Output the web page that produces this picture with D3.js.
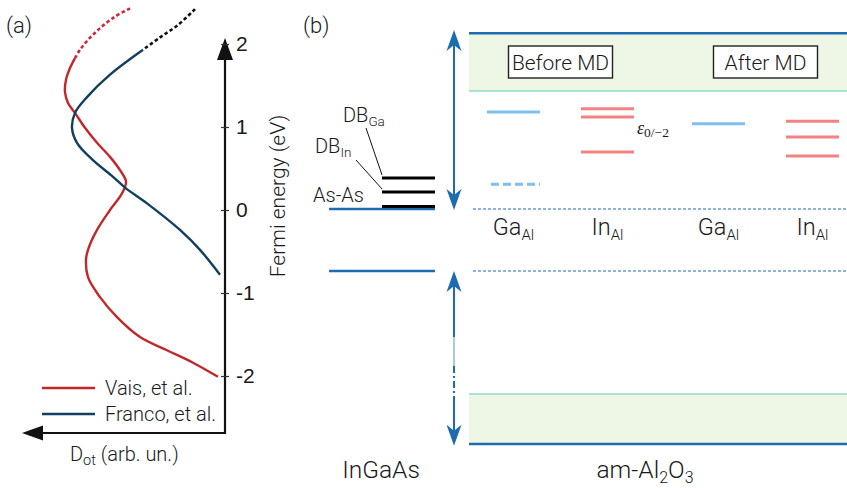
<!DOCTYPE html>
<html>
<head>
<meta charset="utf-8">
<script src="https://cdn.jsdelivr.net/npm/d3@7"></script>
<style>
  body { margin: 0; background: #fff; }
  svg { display: block; font-family: Roboto, "Liberation Sans", Arial, sans-serif; font-weight: 300; }
  text { fill: #1a1a1a; }
</style>
</head>
<body>
<div class="div-chart"></div>
<script>
// ---- data ----
const energyTicks = [-2, -1, 0, 1, 2];

// Dot (arb. un.) vs Fermi energy (eV)
const vaisSolid = [
  {d: 150, e: 1.83}, {d: 155, e: 1.71}, {d: 159, e: 1.57}, {d: 160, e: 1.42},
  {d: 157, e: 1.29}, {d: 150, e: 1.17}, {d: 140, e: 0.99}, {d: 128, e: 0.81},
  {d: 115, e: 0.64}, {d: 105, e: 0.48}, {d: 99, e: 0.34}, {d: 103, e: 0.20},
  {d: 115, e: 0.00}, {d: 128, e: -0.24}, {d: 137, e: -0.48}, {d: 139, e: -0.60},
  {d: 137, e: -0.81}, {d: 125, e: -1.05}, {d: 108, e: -1.29}, {d: 85, e: -1.53},
  {d: 58, e: -1.69}, {d: 32, e: -1.84}, {d: 7, e: -2.01}
];
const vaisDotted = [
  {d: 95, e: 2.43}, {d: 110, e: 2.33}, {d: 125, e: 2.19}, {d: 137, e: 2.05},
  {d: 145, e: 1.93}, {d: 150, e: 1.83}
];
const francoSolid = [
  {d: 82, e: 1.93}, {d: 115, e: 1.63}, {d: 138, e: 1.36}, {d: 150, e: 1.17},
  {d: 153, e: 0.99}, {d: 148, e: 0.81}, {d: 132, e: 0.60}, {d: 112, e: 0.40},
  {d: 100, e: 0.27}, {d: 78, e: 0.08}, {d: 45, e: -0.24}, {d: 25, e: -0.48},
  {d: 5, e: -0.78}
];
const francoDotted = [
  {d: 30, e: 2.42}, {d: 47, e: 2.23}, {d: 65, e: 2.08}, {d: 82, e: 1.93}
];
const legendItems = [
  {label: 'Vais, et al.', color: '#c0292b'},
  {label: 'Franco, et al.', color: '#123f5f'}
];

// band diagram (eV, same scale as panel a)
const ingaasEdges = [0.012, -0.735];          // CBM, VBM
const oxideCB = [1.434, 2.13];
const oxideVB = [-2.82, -2.217];
const interfaceLevels = [
  {name: 'DB', sub: 'Ga', e: 0.386},
  {name: 'DB', sub: 'In', e: 0.217},
  {name: 'As-As', sub: '', e: 0.042}
];
const mdPhases = ['Before MD', 'After MD'];
const species = ['Ga', 'In'];
const defectLevels = [
  {phase: 'Before MD', sp: 'Ga', e: 1.18, dashed: false},
  {phase: 'Before MD', sp: 'Ga', e: 0.31, dashed: true},
  {phase: 'Before MD', sp: 'In', e: 1.22, dashed: false},
  {phase: 'Before MD', sp: 'In', e: 1.12, dashed: false},
  {phase: 'Before MD', sp: 'In', e: 0.70, dashed: false},
  {phase: 'After MD', sp: 'Ga', e: 1.04, dashed: false},
  {phase: 'After MD', sp: 'In', e: 1.07, dashed: false},
  {phase: 'After MD', sp: 'In', e: 0.88, dashed: false},
  {phase: 'After MD', sp: 'In', e: 0.65, dashed: false}
];

// ---- chart ----
const width = 847, height = 488;
const blue = '#1d6cb0', lightBlue = '#7fbef0', lightRed = '#f48282';

const svg = d3.select('.div-chart')
  .append('svg')
  .attr('width', width)
  .attr('height', height);

// shared energy scale
const y = d3.scaleLinear().domain([-2, 2]).range([376, 44]);

// ===== panel (a) =====
const x = d3.scaleLinear().domain([0, 203]).range([225, 22]);
const axisX = x(0), axisBottom = 433;

svg.append('text').attr('x', 6).attr('y', 33)
  .attr('font-size', 22).text('(a)');

const line = d3.line()
  .x(d => x(d.d))
  .y(d => y(d.e))
  .curve(d3.curveCatmullRom.alpha(0.5));

const a = svg.append('g');

a.append('path').datum(vaisDotted)
  .attr('d', line).attr('fill', 'none')
  .attr('stroke', '#d4213c').attr('stroke-width', 2.6)
  .attr('stroke-dasharray', '3.5,2.5');
a.append('path').datum(francoDotted)
  .attr('d', line).attr('fill', 'none')
  .attr('stroke', '#111').attr('stroke-width', 2.6)
  .attr('stroke-dasharray', '3.5,2.5');
a.append('path').datum(vaisSolid)
  .attr('d', line).attr('fill', 'none')
  .attr('stroke', legendItems[0].color).attr('stroke-width', 2.4);
a.append('path').datum(francoSolid)
  .attr('d', line).attr('fill', 'none')
  .attr('stroke', legendItems[1].color).attr('stroke-width', 2.4);

// axes
a.append('line')
  .attr('x1', axisX).attr('x2', axisX)
  .attr('y1', axisBottom + 1).attr('y2', 56)
  .attr('stroke', '#111').attr('stroke-width', 2.2);
a.append('path')
  .attr('d', `M${axisX},38 L${axisX - 8},60 L${axisX + 8},60 Z`)
  .attr('fill', '#111');
a.append('line')
  .attr('x1', axisX + 1).attr('x2', 38)
  .attr('y1', axisBottom).attr('y2', axisBottom)
  .attr('stroke', '#111').attr('stroke-width', 2.2);
a.append('path')
  .attr('d', `M22,${axisBottom} L43,${axisBottom - 7.5} L43,${axisBottom + 7.5} Z`)
  .attr('fill', '#111');

const yAxis = a.append('g')
  .attr('transform', `translate(${axisX},0)`)
  .call(d3.axisRight(y).tickValues(energyTicks).tickFormat(d => String(d))
    .tickSize(4).tickPadding(7));
yAxis.select('.domain').remove();
yAxis.selectAll('.tick line').attr('x1', -4).attr('stroke', '#333').attr('stroke-width', 1.2);
yAxis.selectAll('.tick text')
  .attr('font-size', 21).attr('font-family', null).attr('fill', '#1a1a1a');

a.append('text')
  .attr('transform', `translate(285,196) rotate(-90)`)
  .attr('text-anchor', 'middle')
  .attr('font-size', 21)
  .text('Fermi energy (eV)');

const dot = a.append('text').attr('x', 70).attr('y', 461).attr('font-size', 20);
dot.append('tspan').text('D');
dot.append('tspan').attr('font-size', 14.5).attr('dy', 4).text('ot');
dot.append('tspan').attr('dy', -4).text(' (arb. un.)');

const legend = a.selectAll('.leg').data(legendItems).enter().append('g')
  .attr('transform', (d, i) => `translate(42,${388 + i * 26})`);
legend.append('line').attr('x1', 0).attr('x2', 53)
  .attr('stroke', d => d.color).attr('stroke-width', 2.4);
legend.append('text').attr('x', 63).attr('y', 7)
  .attr('font-size', 20).text(d => d.label);

// ===== panel (b) =====
const b = svg.append('g');
b.append('text').attr('x', 303).attr('y', 33)
  .attr('font-size', 22).text('(b)');

const oxideX0 = 469, oxideX1 = width;

// oxide bands
[oxideCB, oxideVB].forEach(band => {
  b.append('rect')
    .attr('x', oxideX0).attr('width', oxideX1 - oxideX0)
    .attr('y', y(band[1])).attr('height', y(band[0]) - y(band[1]))
    .attr('fill', '#eef6e6');
});
b.append('line')
  .attr('x1', oxideX0).attr('x2', oxideX1)
  .attr('y1', y(oxideCB[0])).attr('y2', y(oxideCB[0]))
  .attr('stroke', '#90d9cd').attr('stroke-width', 1.5);
b.append('line')
  .attr('x1', oxideX0).attr('x2', oxideX1)
  .attr('y1', y(oxideVB[1])).attr('y2', y(oxideVB[1]))
  .attr('stroke', '#90d9cd').attr('stroke-width', 1.5);
b.append('line')
  .attr('x1', oxideX0).attr('x2', oxideX1)
  .attr('y1', y(oxideCB[1])).attr('y2', y(oxideCB[1]))
  .attr('stroke', blue).attr('stroke-width', 2.5);
b.append('line')
  .attr('x1', oxideX0).attr('x2', oxideX1)
  .attr('y1', y(oxideVB[0])).attr('y2', y(oxideVB[0]))
  .attr('stroke', blue).attr('stroke-width', 2.5);

// InGaAs edges and dotted extension
ingaasEdges.forEach(e => {
  b.append('line')
    .attr('x1', 329).attr('x2', 435)
    .attr('y1', y(e)).attr('y2', y(e))
    .attr('stroke', blue).attr('stroke-width', 2.5);
  b.append('line')
    .attr('x1', 473).attr('x2', oxideX1)
    .attr('y1', y(e)).attr('y2', y(e))
    .attr('stroke', blue).attr('stroke-width', 1.2)
    .attr('stroke-dasharray', '3,2');
});

// interface levels
b.selectAll('.ilev').data(interfaceLevels).enter().append('line')
  .attr('x1', 382).attr('x2', 435)
  .attr('y1', d => y(d.e)).attr('y2', d => y(d.e))
  .attr('stroke', '#000').attr('stroke-width', 3);

const ilabPos = [{x: 343, y: 122, lx: 366, ly: 128}, {x: 315, y: 153, lx: 356, ly: 160}, {x: 313, y: 202}];
interfaceLevels.forEach((d, i) => {
  const p = ilabPos[i];
  const t = b.append('text').attr('x', p.x).attr('y', p.y).attr('font-size', 20);
  t.append('tspan').text(d.name);
  if (d.sub) t.append('tspan').attr('font-size', 13.5).attr('dy', 4).text(d.sub);
  if (p.lx) {
    b.append('line')
      .attr('x1', p.lx).attr('y1', p.ly)
      .attr('x2', 382).attr('y2', y(d.e) - 3)
      .attr('stroke', '#111').attr('stroke-width', 1);
  }
});

// double arrows
function arrowHead(xc, tipY, dir) {
  // dir = -1 up, +1 down
  b.append('path')
    .attr('d', `M${xc},${tipY} L${xc - 7.5},${tipY - dir * 21} L${xc},${tipY - dir * 15} L${xc + 7.5},${tipY - dir * 21} Z`)
    .attr('fill', blue);
}
const arrowX = 454;
b.append('line')
  .attr('x1', arrowX).attr('x2', arrowX)
  .attr('y1', y(2.17) + 10).attr('y2', y(0) - 10)
  .attr('stroke', blue).attr('stroke-width', 2);
arrowHead(arrowX, y(2.17), -1);
arrowHead(arrowX, y(0), 1);

const vbTop = y(ingaasEdges[1]), vbBot = y(-2.84);
b.append('line')
  .attr('x1', arrowX).attr('x2', arrowX)
  .attr('y1', vbTop + 10).attr('y2', 337)
  .attr('stroke', blue).attr('stroke-width', 2);
b.append('line')
  .attr('x1', arrowX).attr('x2', arrowX)
  .attr('y1', 337).attr('y2', 366)
  .attr('stroke', blue).attr('stroke-width', 1.6).attr('opacity', 0.45);
b.append('line')
  .attr('x1', arrowX).attr('x2', arrowX)
  .attr('y1', 366).attr('y2', 398)
  .attr('stroke', blue).attr('stroke-width', 2)
  .attr('stroke-dasharray', '7,3,2,3');
b.append('line')
  .attr('x1', arrowX).attr('x2', arrowX)
  .attr('y1', 398).attr('y2', vbBot - 10)
  .attr('stroke', blue).attr('stroke-width', 2);
arrowHead(arrowX, vbTop, -1);
arrowHead(arrowX, vbBot, 1);

// defect columns
const xPhase = d3.scaleBand().domain(mdPhases).range([466, 876]);
const xSpecies = d3.scalePoint().domain(species).range([47.5, 141.5]);
const levelHalf = 26.5;
const colX = d => xPhase(d.phase) + xSpecies(d.sp);

b.selectAll('.dlev').data(defectLevels).enter().append('line')
  .attr('x1', d => colX(d) - levelHalf + (d.dashed ? 4 : 0))
  .attr('x2', d => colX(d) + levelHalf)
  .attr('y1', d => y(d.e)).attr('y2', d => y(d.e))
  .attr('stroke', d => d.sp === 'Ga' ? lightBlue : lightRed)
  .attr('stroke-width', 3)
  .attr('stroke-dasharray', d => d.dashed ? '8,4' : null);

// phase boxes
const boxes = b.selectAll('.pbox').data(mdPhases).enter().append('g')
  .attr('transform', d => `translate(${xPhase(d) + 94.5},62)`);
boxes.append('rect')
  .attr('x', -52).attr('y', -16).attr('width', 104).attr('height', 32)
  .attr('fill', '#fff').attr('stroke', '#222').attr('stroke-width', 1.4);
boxes.append('text').attr('text-anchor', 'middle').attr('y', 7.5)
  .attr('font-size', 21).text(d => d);

// species labels
mdPhases.forEach(ph => {
  species.forEach(sp => {
    const t = b.append('text')
      .attr('x', xPhase(ph) + xSpecies(sp)).attr('y', 235)
      .attr('text-anchor', 'middle').attr('font-size', 23.5);
    t.append('tspan').text(sp);
    t.append('tspan').attr('font-size', 15).attr('dy', 5).text('Al');
  });
});

// epsilon label
const eps = b.append('text').attr('x', 637).attr('y', 134)
  .attr('font-family', '"Liberation Serif", "DejaVu Serif", serif').attr('font-weight', 400);
eps.append('tspan').attr('font-style', 'italic').attr('font-size', 18).text('ε');
eps.append('tspan').attr('font-size', 13.5).attr('dy', 3).text('0/−2');

// material labels
b.append('text').attr('x', 381).attr('y', 478).attr('text-anchor', 'middle')
  .attr('font-size', 24.5).text('InGaAs');
const am = b.append('text').attr('x', 645).attr('y', 478).attr('text-anchor', 'middle')
  .attr('font-size', 24.5);
am.append('tspan').text('am-Al');
am.append('tspan').attr('font-size', 16).attr('dy', 5).text('2');
am.append('tspan').attr('dy', -5).text('O');
am.append('tspan').attr('font-size', 16).attr('dy', 5).text('3');
</script>
</body>
</html>
